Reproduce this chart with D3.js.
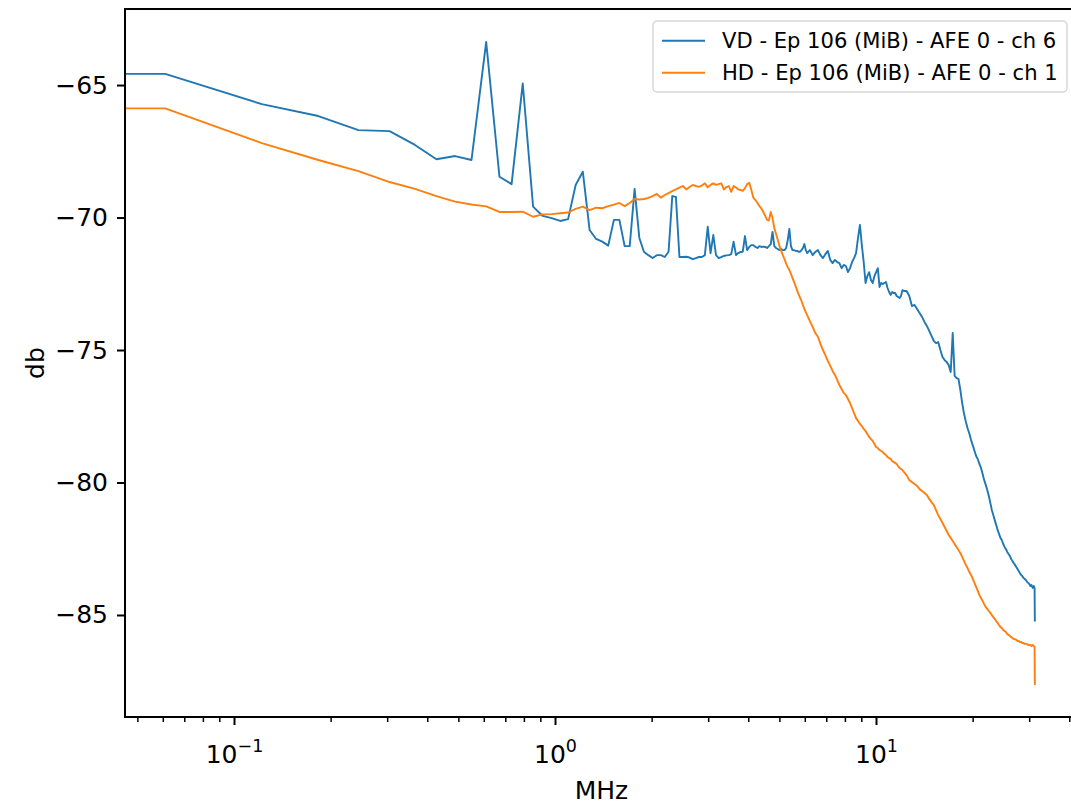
<!DOCTYPE html>
<html><head><meta charset="utf-8">
<script src="https://cdn.jsdelivr.net/npm/d3@7"></script>
<style>body{margin:0;background:#fff} text{font-family:"DejaVu Sans",sans-serif;fill:#000}</style>
</head><body><svg id="c" width="1071" height="806"></svg>
<script>
// FFT bin width in MHz (62.5 MS/s, 1024-pt)
const binWidthMHz = 62.5 / 1024;
const bins = [
1,2,3,4,5,6,7,8,9,10,11,12,13,14,15,16,17,18,19,20,
21,22,23,24,25,26,27,28,29,30,31,32,33,34,35,36,37,38,39,40,
41,42,43,44,45,46,47,48,49,50,51,52,53,54,55,56,57,58,59,60,
61,62,63,64,65,66,67,68,69,70,71,72,73,74,75,76,77,78,79,80,
81,82,83,84,85,86,87,88,89,90,91,92,93,94,95,96,97,98,99,100,
102,104,106,108,110,112,114,116,118,120,122,124,126,128,130,132,134,136,138,140,
142,144,146,148,150,152,154,156,158,160,162,164,166,168,170,172,174,176,178,180,
182,184,186,188,190,192,194,196,198,200,
204,208,212,216,220,224,228,232,236,240,244,248,252,256,260,264,268,272,276,280,
284,288,292,296,300,304,308,312,316,320,324,328,332,336,340,344,348,352,356,360,
364,368,372,376,380,384,388,392,396,400,404,408,412,416,420,424,428,432,436,440,
444,448,452,456,460,464,468,472,476,480,484,488,492,496,500,504,508,511,512];

const vdDb = [
-64.58,-65.72,-66.17,-66.70,-66.74,-67.26,-67.80,-67.68,-67.83,-63.37,
-68.46,-68.74,-64.94,-69.59,-69.94,-70.02,-70.13,-70.06,-68.77,-68.27,
-70.47,-70.81,-70.91,-71.06,-70.09,-70.09,-71.08,-71.08,-68.92,-70.77,
-71.29,-71.42,-71.53,-71.42,-71.42,-71.49,-71.29,-69.19,-69.22,-71.49,
-71.49,-71.48,-71.51,-71.57,-71.53,-71.49,-71.49,-71.42,-70.35,-71.34,
-70.66,-71.42,-71.53,-71.49,-71.45,-71.43,-71.42,-71.38,-70.91,-71.42,
-71.34,-71.30,-71.29,-70.70,-71.23,-71.11,-71.04,-71.04,-71.11,-71.15,
-71.08,-71.11,-71.10,-71.11,-71.15,-71.08,-71.00,-70.54,-71.08,-71.15,
-71.19,-71.23,-71.19,-71.23,-71.23,-71.15,-70.85,-70.43,-71.08,-71.23,
-71.23,-71.26,-71.26,-71.29,-71.29,-71.23,-71.15,-71.00,-71.23,-71.34,
-71.23,-71.42,-71.30,-71.23,-71.42,-71.53,-71.38,-71.26,-71.60,-71.72,
-71.60,-71.68,-71.72,-71.91,-71.79,-71.83,-72.06,-71.91,-71.68,-71.53,
-71.34,-70.77,-70.28,-71.04,-71.68,-72.47,-72.21,-72.06,-72.36,-72.47,
-72.21,-72.06,-71.91,-72.62,-72.47,-72.51,-72.47,-72.43,-72.66,-72.81,
-72.92,-72.81,-72.85,-72.85,-72.96,-73.00,-73.04,-72.96,-72.74,-72.77,
-72.77,-72.96,-73.34,-73.30,-73.45,-73.60,-73.75,-73.94,-74.09,-74.28,
-74.47,-74.66,-74.74,-74.70,-75.00,-75.26,-75.38,-75.45,-75.57,-75.83,
-74.36,-75.98,-76.06,-76.09,-76.50,-77.00,-77.40,-77.70,-77.95,-78.15,
-78.40,-78.60,-78.80,-79.00,-79.12,-79.30,-79.45,-79.68,-79.91,-80.09,
-80.28,-80.51,-80.77,-81.04,-81.23,-81.42,-81.60,-81.79,-81.94,-82.09,
-82.17,-82.32,-82.43,-82.51,-82.62,-82.70,-82.77,-82.89,-82.96,-83.04,
-83.11,-83.19,-83.26,-83.34,-83.42,-83.49,-83.53,-83.60,-83.64,-83.68,
-83.75,-83.79,-83.83,-83.91,-83.87,-83.98,-83.91,-83.98,-85.25];

const hdDb = [
-65.88,-67.19,-67.83,-68.25,-68.66,-68.92,-69.19,-69.40,-69.51,-69.58,
-69.79,-69.79,-69.78,-69.97,-69.88,-69.87,-69.84,-69.81,-69.67,-69.59,
-69.72,-69.63,-69.65,-69.57,-69.51,-69.45,-69.57,-69.45,-69.30,-69.32,
-69.30,-69.26,-69.19,-69.11,-69.25,-69.15,-69.08,-69.00,-68.94,-68.87,
-68.81,-68.94,-68.85,-68.77,-68.81,-68.84,-68.79,-68.71,-68.86,-68.77,
-68.71,-68.77,-68.74,-68.71,-68.94,-68.85,-68.81,-69.03,-68.81,-68.87,
-68.94,-68.96,-68.99,-68.89,-68.74,-68.69,-68.96,-69.26,-69.34,-69.45,
-69.57,-69.66,-69.79,-69.94,-70.09,-70.11,-69.79,-70.02,-70.40,-70.62,
-70.85,-71.08,-71.26,-71.43,-71.57,-71.74,-71.87,-71.98,-72.13,-72.28,
-72.43,-72.58,-72.74,-72.89,-73.02,-73.15,-73.30,-73.45,-73.57,-73.68,
-73.91,-74.13,-74.36,-74.50,-74.77,-75.00,-75.20,-75.42,-75.60,-75.79,
-75.94,-76.13,-76.32,-76.47,-76.62,-76.70,-76.85,-77.00,-77.19,-77.38,
-77.57,-77.68,-77.79,-77.87,-77.98,-78.06,-78.17,-78.28,-78.36,-78.43,
-78.55,-78.66,-78.70,-78.77,-78.81,-78.85,-78.92,-78.96,-79.04,-79.08,
-79.11,-79.19,-79.23,-79.26,-79.30,-79.38,-79.45,-79.49,-79.53,-79.60,
-79.72,-79.91,-79.98,-80.06,-80.13,-80.25,-80.32,-80.40,-80.47,-80.62,
-80.74,-80.85,-81.04,-81.23,-81.38,-81.53,-81.68,-81.83,-81.98,-82.09,
-82.21,-82.32,-82.43,-82.55,-82.66,-82.81,-82.96,-83.11,-83.23,-83.38,
-83.49,-83.64,-83.79,-83.94,-84.09,-84.25,-84.36,-84.47,-84.59,-84.70,
-84.77,-84.85,-84.92,-85.00,-85.08,-85.15,-85.23,-85.30,-85.38,-85.45,
-85.49,-85.57,-85.60,-85.64,-85.72,-85.75,-85.79,-85.83,-85.87,-85.91,
-85.91,-85.94,-85.98,-85.98,-86.02,-86.02,-86.06,-86.06,-86.09,-86.09,
-86.09,-86.13,-86.13,-86.13,-86.17,-86.13,-86.17,-86.21,-87.64];

const seriesNames = ["VD - Ep 106 (MiB) - AFE 0 - ch 6", "HD - Ep 106 (MiB) - AFE 0 - ch 1"];
const seriesColors = ["#1f77b4", "#ff7f0e"];
const yTicks = [-85, -80, -75, -70, -65];
const xMajorTicks = [0.1, 1, 10];
const xMajorExponents = ["\u22121", "0", "1"];
const xMinorTicks = [0.05,0.06,0.07,0.08,0.09,0.2,0.3,0.4,0.5,0.6,0.7,0.8,0.9,2,3,4,5,6,7,8,9,20,30,40];
const xLabel = "MHz", yLabel = "db";

const L = 125, T = 9, R = 1078, B = 717;
const svg = d3.select("#c");
const x = d3.scaleLog().domain([Math.pow(10, -1.33956), Math.pow(10, 1.62925)]).range([L, R]);
const y = d3.scaleLinear().domain([-88.85, -62.13]).range([B, T]);

svg.append("defs").append("clipPath").attr("id", "clip")
  .append("rect").attr("x", L).attr("y", T).attr("width", R - L).attr("height", B - T);

// data lines
const line = d3.line().x(d => d[0]).y(d => d[1]);
[vdDb, hdDb].forEach((vals, i) => {
  const pts = bins.map((b, j) => [x(b * binWidthMHz), y(vals[j])]);
  pts.unshift([L - 10, pts[0][1]]); // DC bin maps off-axis on log scale
  svg.append("path").attr("clip-path", "url(#clip)")
    .attr("d", line(pts)).attr("fill", "none")
    .attr("stroke", seriesColors[i]).attr("stroke-width", 1.9)
    .attr("stroke-linejoin", "round");
});

// y axis
const gy = svg.append("g").attr("transform", `translate(${L},0)`)
  .call(d3.axisLeft(y).tickValues(yTicks).tickSize(8).tickPadding(9).tickSizeOuter(0));
gy.select(".domain").remove();
gy.selectAll(".tick line").attr("stroke", "#000").attr("stroke-width", 2);
gy.selectAll(".tick text").attr("font-size", 25).attr("font-family", "DejaVu Sans").attr("fill", "#000");

// x axis minor
const gxm = svg.append("g").attr("transform", `translate(0,${B})`)
  .call(d3.axisBottom(x).tickValues(xMinorTicks).tickSize(5).tickFormat(() => "").tickSizeOuter(0));
gxm.select(".domain").remove();
gxm.selectAll(".tick line").attr("stroke", "#000").attr("stroke-width", 1.5);

// x axis major
const gx = svg.append("g").attr("transform", `translate(0,${B})`)
  .call(d3.axisBottom(x).tickValues(xMajorTicks).tickSize(8).tickFormat(() => "").tickSizeOuter(0));
gx.select(".domain").remove();
gx.selectAll(".tick line").attr("stroke", "#000").attr("stroke-width", 2);
gx.selectAll(".tick text").remove();
gx.selectAll(".tick").each(function (d, i) {
  const t = d3.select(this).append("text").attr("y", 46).attr("text-anchor", "middle")
    .attr("font-size", 25).attr("fill", "#000");
  t.append("tspan").text("10");
  t.append("tspan").attr("dy", -11).attr("font-size", 17.5).text(xMajorExponents[i]);
});

// spines
svg.append("path")
  .attr("d", `M${R},${T}H${L}V${B}H${R}`)
  .attr("fill", "none").attr("stroke", "#000").attr("stroke-width", 2);

// axis labels
svg.append("text").attr("x", (L + R) / 2).attr("y", 799).attr("text-anchor", "middle")
  .attr("font-size", 25).text(xLabel);
svg.append("text").attr("transform", `translate(44,${(T + B) / 2}) rotate(-90)`)
  .attr("text-anchor", "middle").attr("font-size", 25).text(yLabel);

// legend
const lg = svg.append("g");
lg.append("rect").attr("x", 653).attr("y", 21).attr("width", 414).attr("height", 71)
  .attr("rx", 4).attr("fill", "#fff").attr("fill-opacity", 0.8)
  .attr("stroke", "#d6d6d6").attr("stroke-width", 1.5);
seriesNames.forEach((nm, i) => {
  const yy = 40.7 + i * 32;
  lg.append("line").attr("x1", 662).attr("x2", 705).attr("y1", yy).attr("y2", yy)
    .attr("stroke", seriesColors[i]).attr("stroke-width", 1.9);
  lg.append("text").attr("x", 722).attr("y", yy).attr("dy", "0.36em")
    .attr("font-size", 21.1).text(nm);
});
</script></body></html>
